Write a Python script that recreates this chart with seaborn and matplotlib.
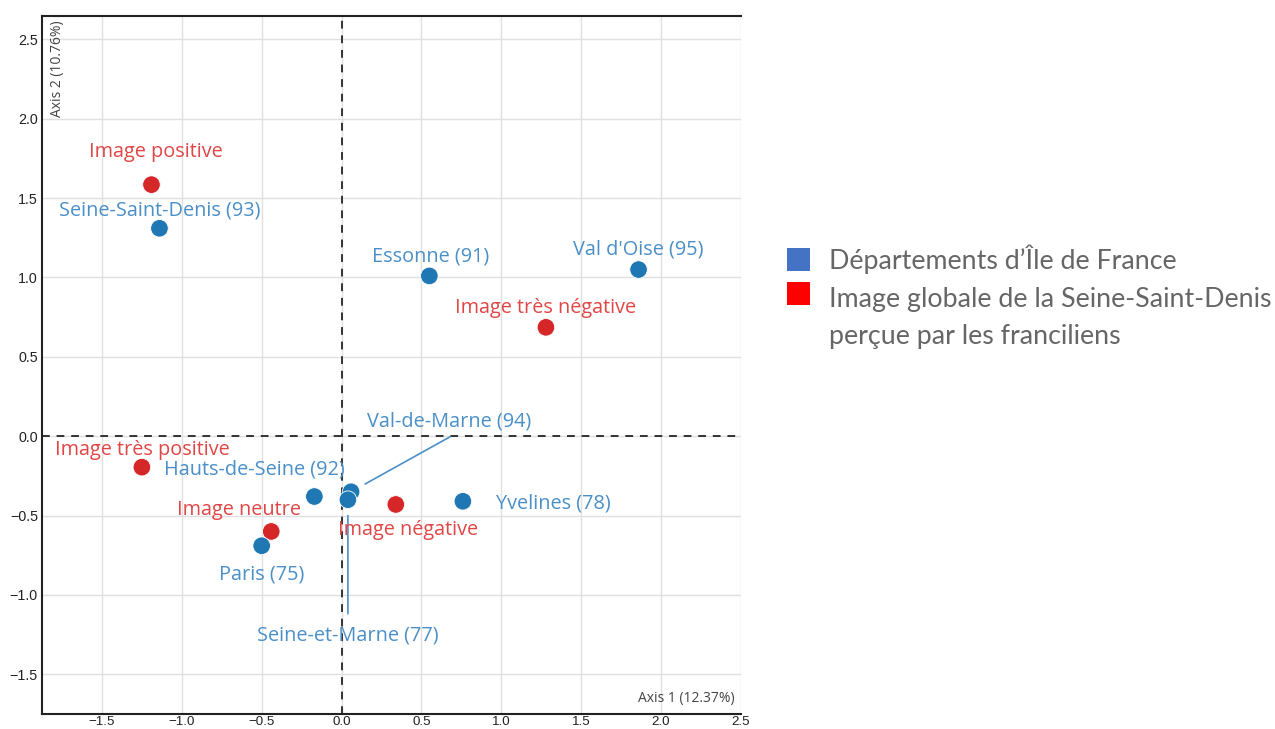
import matplotlib
matplotlib.use("Agg")
import matplotlib.pyplot as plt
import seaborn as sns
import pandas as pd
from matplotlib.patches import Rectangle

# ---- data ----
labels = ["Image positive", "Seine-Saint-Denis (93)", "Essonne (91)", "Val d'Oise (95)",
          "Image très négative", "Image très positive", "Hauts-de-Seine (92)",
          "Val-de-Marne (94)", "Seine-et-Marne (77)", "Image négative", "Yvelines (78)",
          "Image neutre", "Paris (75)"]
axis1 = [-1.19, -1.14, 0.55, 1.86, 1.28, -1.25, -0.17, 0.06, 0.04, 0.34, 0.76, -0.44, -0.50]
axis2 = [1.585, 1.31, 1.01, 1.05, 0.686, -0.195, -0.38, -0.35, -0.40, -0.43, -0.41, -0.60, -0.69]
groups = ["img", "dep", "dep", "dep", "img", "img", "dep", "dep", "dep", "img", "dep", "img", "dep"]
x_ticks = [-1.5, -1.0, -0.5, 0.0, 0.5, 1.0, 1.5, 2.0, 2.5]
y_ticks = [-1.5, -1.0, -0.5, 0.0, 0.5, 1.0, 1.5, 2.0, 2.5]
legend_labels = ["Départements d\u2019Île de France",
                 "Image globale de la Seine-Saint-Denis\nperçue par les franciliens"]

df = pd.DataFrame({"label": labels, "x": axis1, "y": axis2, "group": groups})

# ---- styles ----
marker_colors = {"dep": "#1f77b4", "img": "#d62728"}
text_colors = {"dep": "#4a8fc8", "img": "#e04646"}
# label offsets in pixels (dx, dy, ha)
offsets = {
    "Image positive": (4, 33, "center"),
    "Seine-Saint-Denis (93)": (0, 18, "center"),
    "Essonne (91)": (1, 19, "center"),
    "Val d'Oise (95)": (0, 20, "center"),
    "Image très négative": (0, 19, "center"),
    "Image très positive": (0, 17, "center"),
    "Hauts-de-Seine (92)": (-60, 27, "center"),
    "Val-de-Marne (94)": (98, 70, "center"),
    "Seine-et-Marne (77)": (0, -136, "center"),
    "Image négative": (12, -26, "center"),
    "Yvelines (78)": (33, -2, "left"),
    "Image neutre": (-32, 21, "center"),
    "Paris (75)": (0, -29, "center"),
}

sns.set_theme(style="white")
plt.rcParams["font.family"] = ["Open Sans", "DejaVu Sans"]

fig = plt.figure(figsize=(12.75, 7.29), dpi=100)
ax = fig.add_axes([0.033, 0.0206, 0.548, 0.958])

ax.set_xlim(-1.875, 2.5)
ax.set_ylim(-1.75, 2.65)
ax.set_xticks(x_ticks)
ax.set_yticks(y_ticks)
ax.set_xticklabels([f"{v:.1f}".replace("-", "\u2212") for v in x_ticks],
                   fontsize=9.6, family="Liberation Sans", color="#222")
ax.set_yticklabels([f"{v:.1f}".replace("-", "\u2212") for v in y_ticks],
                   fontsize=10.3, family="Liberation Sans", color="#222")
ax.tick_params(axis="y", length=2, width=0.8, color="#999", pad=1)
ax.tick_params(axis="x", length=1.5, width=0.8, color="#999", pad=0.3)
ax.grid(True, color="#e0e0e0", linewidth=1)
ax.set_axisbelow(True)

for s in ["left", "bottom", "top"]:
    ax.spines[s].set_color("#222")
    ax.spines[s].set_linewidth(1.5)
ax.spines["right"].set_visible(False)

ax.axhline(0, color="#333", linestyle=(0, (4, 3.5)), linewidth=1.4, zorder=1.5)
ax.axvline(0, color="#333", linestyle=(0, (4, 3.5)), linewidth=1.4, zorder=1.5)

sns.scatterplot(data=df, x="x", y="y", hue="group", palette=marker_colors,
                s=160, edgecolor="white", linewidth=0.6, legend=False, ax=ax, zorder=3)

for _, r in df.iterrows():
    dx, dy, ha = offsets[r["label"]]
    ax.annotate(r["label"], (r["x"], r["y"]), xytext=(dx, dy), textcoords="offset pixels",
                ha=ha, va="center", fontsize=14.3, color=text_colors[r["group"]], zorder=4)

# leader lines
r = df[df.label == "Val-de-Marne (94)"].iloc[0]
ax.annotate("", (r["x"], r["y"]), xytext=(99, 55), textcoords="offset pixels",
            arrowprops=dict(arrowstyle="-", color="#4a8fc8", lw=1.2, shrinkA=0, shrinkB=11.5))
r = df[df.label == "Seine-et-Marne (77)"].iloc[0]
ax.annotate("", (r["x"], r["y"]), xytext=(0, -114), textcoords="offset pixels",
            arrowprops=dict(arrowstyle="-", color="#4a8fc8", lw=1.2, shrinkA=0, shrinkB=11.5))

ax.set_xlabel("")
ax.set_ylabel("")
ax.text(0.991, 0.012, "Axis 1 (12.37%)", transform=ax.transAxes, ha="right", va="bottom",
        fontsize=10, color="#444")
ax.text(0.012, 0.993, "Axis 2 (10.76%)", transform=ax.transAxes, ha="left", va="top",
        rotation=90, fontsize=10, color="#444")

# ---- legend ----
W, H = 1275, 729
def fx(px): return px / W
def fy(py): return 1 - py / H
fig.patches.append(Rectangle((fx(787), fy(271)), 23 / W, 23 / H, transform=fig.transFigure,
                             facecolor="#4472c4", edgecolor="none"))
fig.patches.append(Rectangle((fx(787), fy(305)), 23 / W, 23 / H, transform=fig.transFigure,
                             facecolor="#ff0000", edgecolor="none"))
fig.text(fx(829), fy(259), legend_labels[0], ha="left", va="center", fontsize=19.3,
         family=["Lato", "DejaVu Sans"], color="#666666")
fig.text(fx(829), fy(318), legend_labels[1], ha="left", va="center", fontsize=19.3,
         family=["Lato", "DejaVu Sans"], color="#666666", linespacing=1.62)

fig.savefig("out.png", dpi=100)
